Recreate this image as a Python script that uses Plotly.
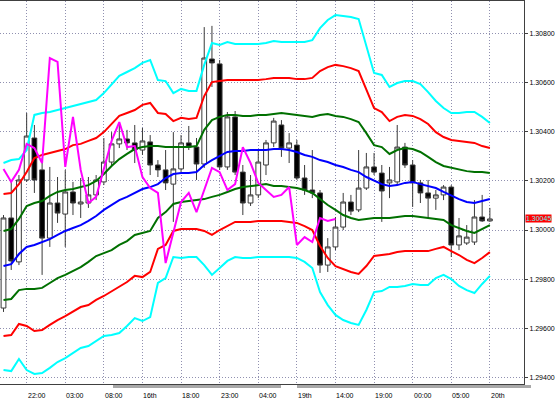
import plotly.graph_objects as go

# ---- data ----
bar_index = list(range(64))

opens = [1.29682, 1.30049, 1.29870, 1.30204, 1.30375, 1.30245, 1.29967, 1.30110, 1.30065, 1.30155,
         1.30106, 1.30110, 1.30143, 1.30196, 1.30277, 1.30351, 1.30371, 1.30355, 1.30326, 1.30359,
         1.30265, 1.30245, 1.30187, 1.30249, 1.30355, 1.30338, 1.30269, 1.30697, 1.30677, 1.30257,
         1.30461, 1.30236, 1.30110, 1.30143, 1.30265, 1.30355, 1.30428, 1.30334, 1.30346, 1.30212,
         1.30163, 1.30151, 1.29857, 1.29931, 1.30012, 1.30114, 1.30082, 1.30171, 1.30257, 1.30232,
         1.30192, 1.30196, 1.30338, 1.30265, 1.30192, 1.30151, 1.30130, 1.30143, 1.30175, 1.29939,
         1.29947, 1.29951, 1.30053, 1.30037]
highs = [1.30061, 1.30204, 1.30224, 1.30477, 1.30428, 1.30293, 1.30257, 1.30216, 1.30245, 1.30196,
         1.30212, 1.30216, 1.30224, 1.30375, 1.30399, 1.30436, 1.30408, 1.30428, 1.30416, 1.30387,
         1.30285, 1.30326, 1.30399, 1.30387, 1.30424, 1.30375, 1.30827, 1.30832, 1.30693, 1.30481,
         1.30485, 1.30265, 1.30224, 1.30326, 1.30367, 1.30457, 1.30448, 1.30395, 1.30367, 1.30265,
         1.30326, 1.30163, 1.29967, 1.30053, 1.30151, 1.30143, 1.30326, 1.30314, 1.30314, 1.30265,
         1.30257, 1.30428, 1.30355, 1.30285, 1.30204, 1.30204, 1.30163, 1.30183, 1.30183, 1.30049,
         1.30020, 1.30122, 1.30143, 1.30090]
lows = [1.29666, 1.29837, 1.29857, 1.30196, 1.30151, 1.29817, 1.29931, 1.30029, 1.29931, 1.30061,
        1.30049, 1.30090, 1.30122, 1.30183, 1.30265, 1.30334, 1.30326, 1.30273, 1.30306, 1.30224,
        1.30216, 1.30163, 1.30033, 1.30236, 1.30326, 1.30204, 1.30253, 1.30583, 1.30245, 1.30245,
        1.30224, 1.30061, 1.30098, 1.30130, 1.30224, 1.30338, 1.30298, 1.30273, 1.30204, 1.30143,
        1.30130, 1.29825, 1.29829, 1.29918, 1.30000, 1.30061, 1.30073, 1.30163, 1.30224, 1.30033,
        1.30130, 1.30183, 1.30253, 1.30094, 1.30110, 1.30049, 1.30082, 1.30122, 1.29890, 1.29918,
        1.29939, 1.29939, 1.30033, 1.30033]
closes = [1.30049, 1.29874, 1.30204, 1.30383, 1.30204, 1.29967, 1.30110, 1.30069, 1.30155, 1.30110,
          1.30114, 1.30143, 1.30204, 1.30277, 1.30351, 1.30371, 1.30355, 1.30326, 1.30363, 1.30265,
          1.30245, 1.30192, 1.30249, 1.30355, 1.30338, 1.30269, 1.30701, 1.30681, 1.30257, 1.30461,
          1.30236, 1.30110, 1.30143, 1.30277, 1.30355, 1.30444, 1.30334, 1.30355, 1.30212, 1.30163,
          1.30151, 1.29857, 1.29931, 1.30012, 1.30114, 1.30077, 1.30171, 1.30257, 1.30236, 1.30159,
          1.30204, 1.30338, 1.30265, 1.30192, 1.30151, 1.30130, 1.30143, 1.30175, 1.29939, 1.29976,
          1.29971, 1.30053, 1.30037, 1.30045]

band_mid = [1.29853, 1.29861, 1.29902, 1.29931, 1.29939, 1.29951, 1.29963, 1.29980, 1.29996, 1.30008,
            1.30020, 1.30037, 1.30057, 1.30082, 1.30102, 1.30122, 1.30135, 1.30151, 1.30167, 1.30175,
            1.30187, 1.30212, 1.30228, 1.30232, 1.30232, 1.30236, 1.30265, 1.30285, 1.30302, 1.30318,
            1.30322, 1.30322, 1.30326, 1.30326, 1.30326, 1.30330, 1.30330, 1.30326, 1.30318, 1.30306,
            1.30298, 1.30285, 1.30277, 1.30265, 1.30257, 1.30245, 1.30236, 1.30216, 1.30200, 1.30187,
            1.30179, 1.30183, 1.30192, 1.30196, 1.30187, 1.30179, 1.30171, 1.30155, 1.30139, 1.30126,
            1.30114, 1.30110, 1.30118, 1.30126]
band_up1 = [1.29996, 1.30004, 1.30045, 1.30098, 1.30110, 1.30118, 1.30139, 1.30155, 1.30163, 1.30167,
            1.30175, 1.30183, 1.30200, 1.30228, 1.30261, 1.30289, 1.30310, 1.30330, 1.30338, 1.30342,
            1.30342, 1.30338, 1.30338, 1.30338, 1.30338, 1.30342, 1.30408, 1.30448, 1.30461, 1.30469,
            1.30469, 1.30465, 1.30465, 1.30469, 1.30469, 1.30473, 1.30477, 1.30473, 1.30469, 1.30465,
            1.30461, 1.30469, 1.30473, 1.30465, 1.30461, 1.30452, 1.30440, 1.30395, 1.30346, 1.30338,
            1.30310, 1.30326, 1.30334, 1.30330, 1.30318, 1.30298, 1.30277, 1.30261, 1.30253, 1.30245,
            1.30240, 1.30236, 1.30236, 1.30232]
band_up2 = [1.30147, 1.30151, 1.30187, 1.30236, 1.30293, 1.30306, 1.30314, 1.30322, 1.30330, 1.30346,
            1.30351, 1.30363, 1.30375, 1.30399, 1.30432, 1.30465, 1.30477, 1.30489, 1.30510, 1.30518,
            1.30477, 1.30473, 1.30444, 1.30457, 1.30452, 1.30457, 1.30546, 1.30603, 1.30607, 1.30611,
            1.30611, 1.30611, 1.30611, 1.30611, 1.30615, 1.30620, 1.30620, 1.30620, 1.30615, 1.30615,
            1.30620, 1.30648, 1.30664, 1.30673, 1.30668, 1.30660, 1.30648, 1.30571, 1.30497, 1.30481,
            1.30444, 1.30461, 1.30469, 1.30465, 1.30452, 1.30432, 1.30399, 1.30379, 1.30367, 1.30363,
            1.30359, 1.30355, 1.30342, 1.30334]
band_up3 = [1.30273, 1.30285, 1.30289, 1.30326, 1.30469, 1.30477, 1.30481, 1.30489, 1.30497, 1.30505,
            1.30514, 1.30522, 1.30530, 1.30558, 1.30595, 1.30628, 1.30644, 1.30660, 1.30681, 1.30693,
            1.30611, 1.30607, 1.30558, 1.30575, 1.30567, 1.30567, 1.30673, 1.30762, 1.30754, 1.30766,
            1.30758, 1.30758, 1.30758, 1.30758, 1.30762, 1.30770, 1.30766, 1.30766, 1.30766, 1.30766,
            1.30774, 1.30823, 1.30856, 1.30876, 1.30872, 1.30868, 1.30860, 1.30754, 1.30640, 1.30632,
            1.30583, 1.30599, 1.30607, 1.30607, 1.30595, 1.30562, 1.30526, 1.30497, 1.30477, 1.30477,
            1.30481, 1.30481, 1.30461, 1.30436]
band_dn1 = [1.29715, 1.29719, 1.29755, 1.29760, 1.29760, 1.29764, 1.29784, 1.29804, 1.29817, 1.29833,
            1.29849, 1.29870, 1.29894, 1.29906, 1.29918, 1.29939, 1.29955, 1.29980, 1.29988, 1.29996,
            1.30049, 1.30073, 1.30106, 1.30114, 1.30118, 1.30122, 1.30126, 1.30135, 1.30143, 1.30155,
            1.30167, 1.30175, 1.30179, 1.30183, 1.30187, 1.30179, 1.30179, 1.30175, 1.30171, 1.30163,
            1.30151, 1.30126, 1.30102, 1.30082, 1.30061, 1.30049, 1.30041, 1.30045, 1.30049, 1.30049,
            1.30049, 1.30053, 1.30057, 1.30057, 1.30053, 1.30049, 1.30045, 1.30041, 1.30020, 1.30008,
            1.29996, 1.29988, 1.30004, 1.30020]
band_dn2 = [1.29568, 1.29572, 1.29617, 1.29609, 1.29588, 1.29592, 1.29613, 1.29633, 1.29649, 1.29666,
            1.29686, 1.29694, 1.29715, 1.29731, 1.29751, 1.29768, 1.29788, 1.29813, 1.29808, 1.29829,
            1.29923, 1.29939, 1.29996, 1.30004, 1.30004, 1.30004, 1.29996, 1.29980, 1.30000, 1.30016,
            1.30033, 1.30033, 1.30033, 1.30037, 1.30037, 1.30037, 1.30037, 1.30033, 1.30029, 1.30016,
            1.30000, 1.29935, 1.29886, 1.29853, 1.29841, 1.29829, 1.29821, 1.29853, 1.29894, 1.29898,
            1.29902, 1.29910, 1.29914, 1.29914, 1.29914, 1.29914, 1.29923, 1.29931, 1.29914, 1.29898,
            1.29878, 1.29865, 1.29886, 1.29910]
band_dn3 = [1.29429, 1.29425, 1.29474, 1.29429, 1.29413, 1.29417, 1.29438, 1.29462, 1.29478, 1.29499,
            1.29519, 1.29527, 1.29548, 1.29568, 1.29572, 1.29580, 1.29609, 1.29641, 1.29629, 1.29645,
            1.29784, 1.29804, 1.29890, 1.29886, 1.29890, 1.29890, 1.29857, 1.29817, 1.29845, 1.29874,
            1.29890, 1.29886, 1.29886, 1.29890, 1.29890, 1.29890, 1.29890, 1.29890, 1.29886, 1.29870,
            1.29845, 1.29747, 1.29694, 1.29654, 1.29633, 1.29621, 1.29613, 1.29674, 1.29747, 1.29751,
            1.29768, 1.29768, 1.29772, 1.29780, 1.29776, 1.29776, 1.29804, 1.29817, 1.29800, 1.29772,
            1.29755, 1.29743, 1.29780, 1.29813]

lag_index = list(range(44))
lag_span = [1.30249, 1.30196, 1.30245, 1.30351, 1.30334, 1.30273, 1.30701, 1.30685, 1.30257, 1.30461,
            1.30245, 1.30110, 1.30135, 1.30245, 1.30363, 1.30440, 1.30338, 1.30342, 1.30216, 1.30171,
            1.30151, 1.29865, 1.29988, 1.30114, 1.30151, 1.30073, 1.30163, 1.30253, 1.30236, 1.30163,
            1.30187, 1.30338, 1.30273, 1.30192, 1.30163, 1.30135, 1.30143, 1.30175, 1.29939, 1.29971,
            1.29951, 1.30049, 1.30037, 1.30045]

x_tick_pos = [3, 8, 13, 18, 23, 28, 33, 38, 43, 48, 53, 58, 63]
x_tick_text = ["22:00", "03:00", "08:00", "16th", "18:00", "23:00", "04:00",
               "19th", "14:00", "19:00", "00:00", "05:00", "20th"]
y_tick_vals = [1.294, 1.296, 1.298, 1.300, 1.302, 1.304, 1.306, 1.308]
y_tick_text = ["1.29400", "1.29600", "1.29800", "1.30000", "1.30200", "1.30400", "1.30600", "1.30800"]
last_price = 1.30045
last_price_text = "1.30045"

# ---- figure ----
fig = go.Figure()

fig.add_trace(go.Candlestick(
    x=bar_index, open=opens, high=highs, low=lows, close=closes,
    increasing=dict(line=dict(color="#3a3a3a", width=1), fillcolor="#ffffff"),
    decreasing=dict(line=dict(color="#3a3a3a", width=1), fillcolor="#000000"),
    whiskerwidth=0, showlegend=False, hoverinfo="skip",
))

line_specs = [
    (band_up3, "#00ffff"), (band_dn3, "#00ffff"),
    (band_up2, "#ff0000"), (band_dn2, "#ff0000"),
    (band_up1, "#007000"), (band_dn1, "#007000"),
    (band_mid, "#0000ff"),
]
for vals, col in line_specs:
    fig.add_trace(go.Scatter(x=bar_index, y=vals, mode="lines",
                             line=dict(color=col, width=2), showlegend=False, hoverinfo="skip"))

fig.add_trace(go.Scatter(x=lag_index, y=lag_span, mode="lines",
                         line=dict(color="#ff00ff", width=2), showlegend=False, hoverinfo="skip"))

annotations = []
for pos, txt in zip(x_tick_pos, x_tick_text):
    annotations.append(dict(x=pos, y=0, xref="x", yref="paper", text=txt, showarrow=False,
                            xanchor="left", yanchor="top", yshift=-6, xshift=-1,
                            font=dict(family="Liberation Sans", size=7, color="#000000")))
annotations.append(dict(x=1, y=last_price, xref="paper", yref="y", text=last_price_text,
                        showarrow=False, xanchor="left", yanchor="middle", xshift=1,
                        bgcolor="#ff0000", borderpad=0,
                        font=dict(family="Liberation Sans", size=7, color="#70f0f0")))

shapes = [
    dict(type="line", xref="paper", yref="paper", x0=113 / 524, x1=281 / 524, y0=-0.0068, y1=-0.0068,
         line=dict(color="#a8a8a8", width=3)),
    dict(type="line", xref="paper", yref="paper", x0=297 / 524, x1=531 / 524, y0=-0.0068, y1=-0.0068,
         line=dict(color="#a8a8a8", width=3)),
]

fig.update_layout(
    width=556, height=399,
    margin=dict(l=0, r=32, t=1, b=15, autoexpand=False),
    paper_bgcolor="#ffffff", plot_bgcolor="#ffffff",
    template="none",
    boxgap=0.12,
    showlegend=False,
    annotations=annotations,
    shapes=shapes,
    xaxis=dict(range=[-0.453, 67.42], tickvals=x_tick_pos, showticklabels=False, ticks="",
               showgrid=True, gridcolor="#9090b0", griddash="1px,2px", gridwidth=1,
               showline=True, linecolor="#404040", linewidth=1, mirror=True,
               zeroline=False, rangeslider=dict(visible=False), automargin=False),
    yaxis=dict(range=[1.293723, 1.309334], side="right", tickvals=y_tick_vals, ticktext=y_tick_text,
               ticks="outside", ticklen=3, tickcolor="#404040",
               tickfont=dict(family="Liberation Sans", size=7, color="#000000"),
               showgrid=True, gridcolor="#9090b0", griddash="1px,2px", gridwidth=1,
               showline=True, linecolor="#404040", linewidth=1, mirror=True,
               zeroline=False, automargin=False),
)

fig.write_html("out.html", config={"displayModeBar": False},
               post_script="document.body.style.margin='0';document.body.style.overflow='hidden';")
